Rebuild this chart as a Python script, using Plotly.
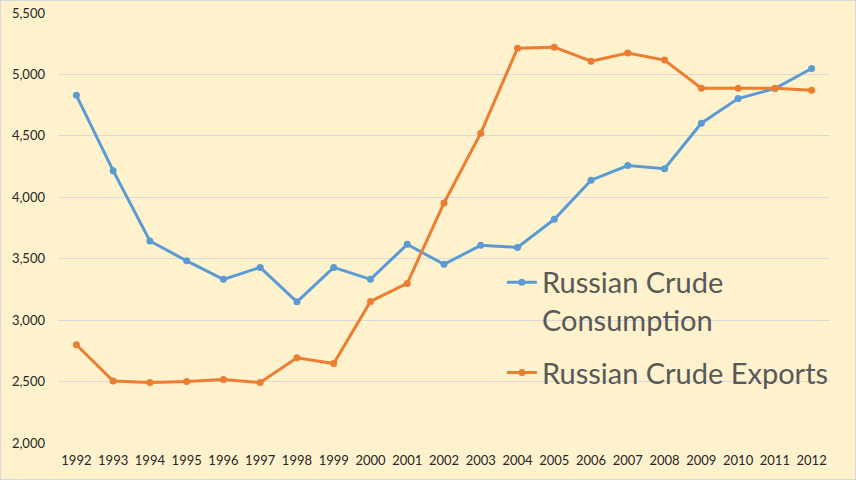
import plotly.graph_objects as go

# Russian crude oil, thousand barrels per day
years = [str(y) for y in range(1992, 2013)]
consumption = [4830, 4217, 3644, 3483, 3332, 3429, 3149, 3429, 3332, 3617, 3454,
               3609, 3592, 3821, 4139, 4258, 4233, 4603, 4804, 4885, 5048]
exports = [2800, 2505, 2492, 2500, 2517, 2492, 2693, 2647, 3152, 3299, 3954,
           4522, 5214, 5222, 5108, 5174, 5117, 4888, 4888, 4888, 4872]

BG = "#FFF2CC"
BLUE = "#5B9BD5"
ORANGE = "#ED7D31"

fig = go.Figure()
fig.add_trace(go.Scatter(
    x=years, y=consumption, name="Russian Crude<br>Consumption",
    legendgroup="cons", mode="lines+markers",
    line=dict(color=BLUE, width=3),
    marker=dict(color=BLUE, size=7),
))
fig.add_trace(go.Scatter(
    x=years, y=exports, name="Russian Crude Exports",
    legendgroup="exp", mode="lines+markers",
    line=dict(color=ORANGE, width=3),
    marker=dict(color=ORANGE, size=7),
))

fig.update_layout(
    width=856, height=480,
    paper_bgcolor=BG, plot_bgcolor=BG,
    margin=dict(l=58, r=26, t=13, b=37),
    font=dict(family="Lato, Noto Sans, sans-serif", size=13, color="#262626"),
    xaxis=dict(
        type="category", range=[-0.5, 20.5], showgrid=False, zeroline=False,
        showline=False, ticks="", tickfont=dict(size=13), automargin=False,
        ticklabelstandoff=8,
    ),
    yaxis=dict(
        range=[2000, 5500], dtick=500, tickformat=",",
        gridcolor="#D9D9D9", gridwidth=1, zeroline=False, showline=False,
        ticks="", tickfont=dict(size=13), ticklabelstandoff=12,
        automargin=False,
    ),
    legend=dict(
        x=0.575, y=0.433, xanchor="left", yanchor="top",
        bgcolor="rgba(0,0,0,0)", valign="top",
        font=dict(size=29, color="#595959"),
        tracegroupgap=12,
    ),
    showlegend=True,
)
# Excel-style thin outer border
fig.add_shape(type="rect", xref="paper", yref="paper",
              x0=-58 / 772, x1=1 + 26 / 772, y0=-37 / 430, y1=1 + 13 / 430,
              line=dict(color="#D9D9D9", width=2), fillcolor="rgba(0,0,0,0)",
              layer="below")

# pin the figure to the page corner, no ligatures in the legend text
page_js = """
document.body.style.margin = '0';
var gd = document.querySelector('.plotly-graph-div');
gd.style.position = 'absolute'; gd.style.top = '0px'; gd.style.left = '0px';
var st = document.createElement('style');
st.textContent = '.legendtext{font-variant-ligatures:none;}';
document.head.appendChild(st);
"""
fig.write_html("out.html", config={"displayModeBar": False}, post_script=page_js)
